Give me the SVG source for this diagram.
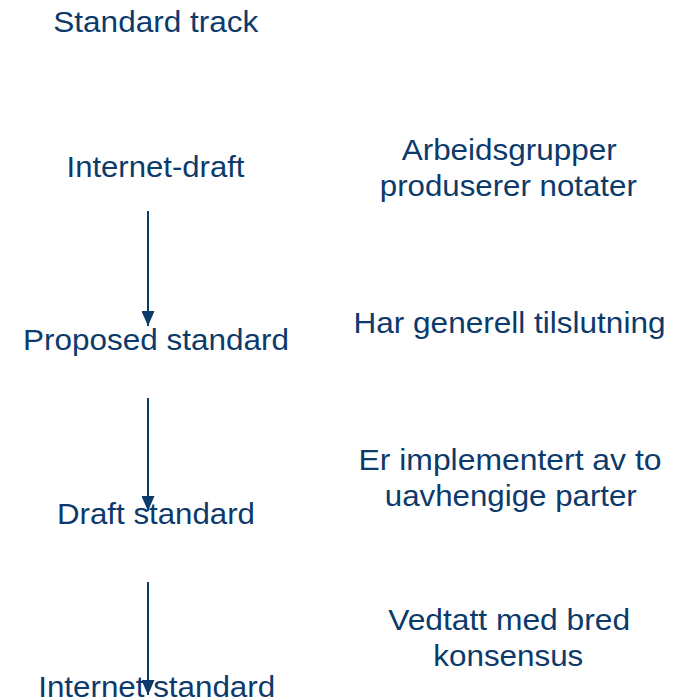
<svg xmlns="http://www.w3.org/2000/svg" width="673" height="700" viewBox="0 0 673 700">
  <style>
    text { font-family: "Liberation Sans", Arial, sans-serif; font-size: 29px; fill: #0c3a6b; text-anchor: middle; }
    .conn { stroke: #0c3a6b; stroke-width: 2; fill: none; }
  </style>
  <defs>
    <marker id="arrow" viewBox="0 0 15 13" refX="15" refY="6.5" markerWidth="15" markerHeight="13" markerUnits="userSpaceOnUse" orient="auto">
      <path d="M0,0 L15,6.5 L0,13 Z" fill="#0c3a6b"/>
    </marker>
  </defs>
  <rect width="673" height="700" fill="#ffffff"/>

  <g id="title">
    <text x="155.8" y="31.5" textLength="205" lengthAdjust="spacingAndGlyphs">Standard track</text>
  </g>

  <g id="internet-draft">
    <text x="155.5" y="177" textLength="178" lengthAdjust="spacingAndGlyphs">Internet-draft</text>
  </g>
  <g id="proposed-standard">
    <text x="156" y="350" textLength="266" lengthAdjust="spacingAndGlyphs">Proposed standard</text>
  </g>
  <g id="draft-standard">
    <text x="156" y="523.5" textLength="198" lengthAdjust="spacingAndGlyphs">Draft standard</text>
  </g>
  <g id="internet-standard">
    <text x="156.7" y="696.5" textLength="237" lengthAdjust="spacingAndGlyphs">Internet standard</text>
  </g>

  <g id="note-draft">
    <text x="509.2" y="159.5" textLength="215" lengthAdjust="spacingAndGlyphs">Arbeidsgrupper</text>
    <text x="508.3" y="195.5" textLength="257" lengthAdjust="spacingAndGlyphs">produserer notater</text>
  </g>
  <g id="note-proposed">
    <text x="509.5" y="332.5" textLength="312" lengthAdjust="spacingAndGlyphs">Har generell tilslutning</text>
  </g>
  <g id="note-draft-standard">
    <text x="510" y="470" textLength="303" lengthAdjust="spacingAndGlyphs">Er implementert av to</text>
    <text x="510.8" y="505.5" textLength="252" lengthAdjust="spacingAndGlyphs">uavhengige parter</text>
  </g>
  <g id="note-internet-standard">
    <text x="509.2" y="630" textLength="242" lengthAdjust="spacingAndGlyphs">Vedtatt med bred</text>
    <text x="508.3" y="666" textLength="150" lengthAdjust="spacingAndGlyphs">konsensus</text>
  </g>

  <g id="connectors">
    <line class="conn" x1="148" y1="211" x2="148" y2="326" marker-end="url(#arrow)"/>
    <line class="conn" x1="148" y1="398" x2="148" y2="511" marker-end="url(#arrow)"/>
    <line class="conn" x1="148" y1="582" x2="148" y2="695" marker-end="url(#arrow)"/>
  </g>
</svg>
